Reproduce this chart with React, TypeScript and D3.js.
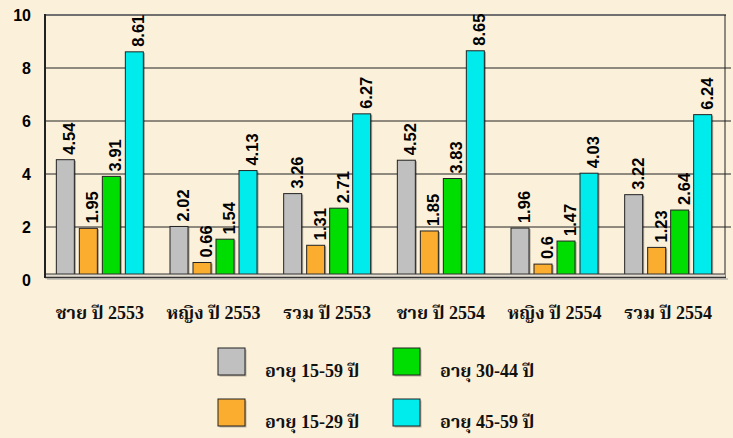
import React from "react";
import * as d3 from "d3";

const categories = ["ชาย ปี 2553", "หญิง ปี 2553", "รวม ปี 2553", "ชาย ปี 2554", "หญิง ปี 2554", "รวม ปี 2554"];
const seriesNames = ["อายุ 15-59 ปี", "อายุ 15-29 ปี", "อายุ 30-44 ปี", "อายุ 45-59 ปี"];
const age1559 = [4.54, 2.02, 3.26, 4.52, 1.96, 3.22];
const age1529 = [1.95, 0.66, 1.31, 1.85, 0.6, 1.23];
const age3044 = [3.91, 1.54, 2.71, 3.83, 1.47, 2.64];
const age4559 = [8.61, 4.13, 6.27, 8.65, 4.03, 6.24];
const yTicks = [0, 2, 4, 6, 8, 10];
const colors = ["#C0C0C0", "#FBAD30", "#00DD00", "#00ECEC"];

const W = 733;
const H = 438;

export default function App() {
  const seriesValues = [age1559, age1529, age3044, age4559];
  const y = d3.scaleLinear().domain([0, 10]).range([280, 15]);
  const x0 = d3.scaleBand<string>().domain(categories).range([43, 725]).padding(0);
  const x1 = d3
    .scaleBand<string>()
    .domain(seriesNames)
    .range([-43.5, 43.5])
    .paddingInner(5 / 23)
    .paddingOuter(0);
  const bw = x1.bandwidth();
  const left = 45;
  const right = 725;
  const floorY = 274;
  const thaiFont = "'Liberation Serif', 'Noto Serif Thai', 'Noto Sans Thai', serif";
  const numFont = "'Liberation Sans', Arial, sans-serif";

  return (
    <svg width={W} height={H} style={{ position: "absolute", left: 0, top: 0 }}>
      <rect x={0} y={0} width={W} height={H} fill="#FBF0DA" />
      {/* gridlines */}
      {yTicks
        .filter((t) => t > 0 && t < 10)
        .map((t) => (
          <line key={t} x1={left} x2={731} y1={y(t)} y2={y(t)} stroke="#222" strokeWidth={1} />
        ))}
      {/* top wall line */}
      <line x1={left} x2={right + 1} y1={y(10)} y2={y(10)} stroke="#707070" strokeWidth={2.2} />
      {/* right frame */}
      <line x1={right} x2={right} y1={y(10)} y2={floorY + 3} stroke="#222" strokeWidth={1} />
      {/* bars */}
      {categories.map((c, ci) => {
        const cx = (x0(c) as number) + x0.bandwidth() / 2;
        return (
          <g key={c}>
            {seriesNames.map((s, si) => {
              const v = seriesValues[si][ci];
              const bx = cx + (x1(s) as number);
              const top = y(v);
              return (
                <g key={s}>
                  <rect x={bx + 1.5} y={top + 1} width={bw} height={floorY - top} fill="rgba(0,0,0,0.35)" />
                  <rect x={bx} y={top} width={bw} height={floorY + 2 - top} fill={colors[si]} stroke="#222" strokeWidth={1} />
                  <text
                    transform={`translate(${bx + bw + 1},${top - 5}) rotate(-90)`}
                    fontFamily={numFont}
                    fontWeight="bold"
                    fontSize={16.5}
                    fill="#000"
                  >
                    {String(v)}
                  </text>
                </g>
              );
            })}
            <text
              x={cx}
              y={319}
              textAnchor="middle"
              fontFamily={thaiFont}
              fontWeight="bold"
              fontSize={18}
              fill="#111"
            >
              {c}
            </text>
          </g>
        );
      })}
      {/* floor */}
      <rect x={left} y={floorY} width={right - left} height={3} fill="#E4DED2" stroke="none" />
      <line x1={left} x2={right} y1={floorY} y2={floorY} stroke="#333" strokeWidth={1} />
      <line x1={left} x2={right + 1} y1={floorY + 3.5} y2={floorY + 3.5} stroke="#333" strokeWidth={1.3} />
      <line x1={left + 2} x2={right + 3} y1={floorY + 5} y2={floorY + 5} stroke="#999" strokeWidth={1} />
      {/* left axis */}
      <line x1={left} x2={left} y1={y(10) - 1} y2={floorY + 4} stroke="#222" strokeWidth={2} />
      {/* y tick labels */}
      {yTicks.map((t) => (
        <text
          key={t}
          x={31}
          y={y(t)}
          dy="0.36em"
          textAnchor="end"
          fontFamily={numFont}
          fontWeight="bold"
          fontSize={16}
          fill="#000"
        >
          {t}
        </text>
      ))}
      {/* legend */}
      {seriesNames.map((s, i) => {
        const col = Math.floor(i / 2);
        const row = i % 2;
        const lx = 218 + col * 175;
        const ly = 348 + row * 51;
        return (
          <g key={s}>
            <rect x={lx + 1.5} y={ly + 1.5} width={27} height={27} fill="rgba(0,0,0,0.25)" />
            <rect x={lx} y={ly} width={27} height={27} fill={colors[i]} stroke="#222" strokeWidth={1} />
            <text x={lx + 47} y={ly + 29} fontFamily={thaiFont} fontWeight="bold" fontSize={18} fill="#111">
              {s}
            </text>
          </g>
        );
      })}
    </svg>
  );
}
